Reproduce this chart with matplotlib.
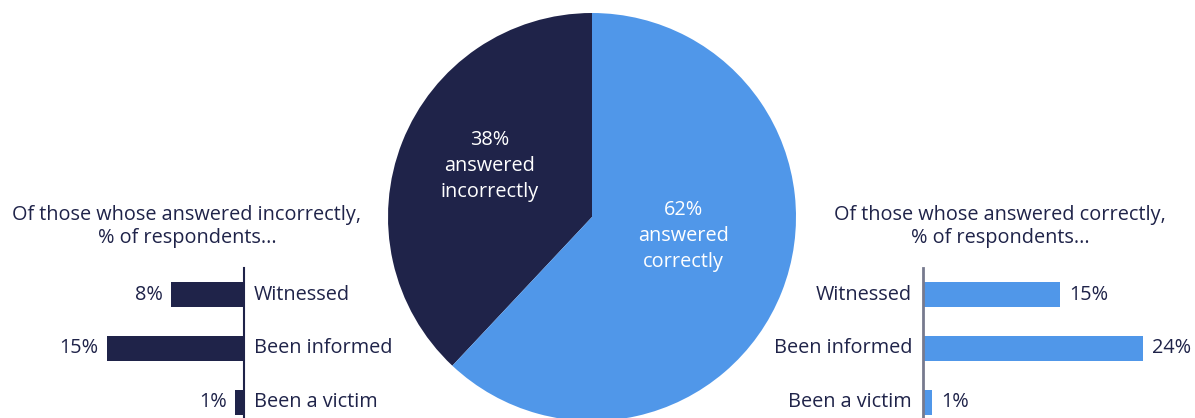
import matplotlib
matplotlib.use("Agg")
import matplotlib.pyplot as plt

plt.rcParams['font.family'] = ['Open Sans', 'DejaVu Sans']

NAVY = '#1f2349'
BLUE = '#5097e9'

pie_labels = ['38%\nanswered\nincorrectly', '62%\nanswered\ncorrectly']
pie_values = [38, 62]

categories = ['Witnessed', 'Been informed', 'Been a victim']
incorrect_values = [8, 15, 1]
correct_values = [15, 24, 1]

left_title = 'Of those whose answered incorrectly,\n% of respondents...'
right_title = 'Of those whose answered correctly,\n% of respondents...'

W, H = 1195, 418
FS = 14.3
fig = plt.figure(figsize=(W / 100, H / 100), dpi=100)

def fx(px):
    return px / W

def fy(py):
    return 1 - py / H

# Pie
cx, cy, r = 592, 217, 204
axp = fig.add_axes([fx(cx - r), fy(cy + r), 2 * r / W, 2 * r / H])
axp.pie(pie_values, colors=[NAVY, BLUE], startangle=90, counterclock=True,
        radius=1, wedgeprops=dict(linewidth=0))
axp.set_xlim(-1, 1)
axp.set_ylim(-1, 1)
axp.set_aspect('equal')
axp.axis('off')
axp.text(-0.5, 0.25, pie_labels[0], color='white', ha='center', va='center',
         fontsize=FS, linespacing=1.38)
axp.text(0.45, -0.093, pie_labels[1], color='white', ha='center', va='center',
         fontsize=FS, linespacing=1.38)

pxper = 9.15
y0, unit = 294.5, 53.75
top, bot = 268, 418
ylim = ((bot - y0) / unit, (top - y0) / unit)
ypos = list(range(len(categories)))
bh = 25 / unit

# Left bars
lx0, lx1 = 40, 244
axl = fig.add_axes([fx(lx0), fy(bot), (lx1 - lx0) / W, (bot - top) / H])
axl.barh(ypos, incorrect_values, height=bh, color=NAVY)
axl.set_xlim((lx1 - lx0) / pxper, 0)
axl.set_ylim(*ylim)
for s in ['top', 'right', 'bottom', 'left']:
    axl.spines[s].set_visible(False)
axl.axvline(0, color=NAVY, lw=1.5, clip_on=False)
axl.set_xticks([])
axl.set_yticks([])
for i, (c, v) in enumerate(zip(categories, incorrect_values)):
    axl.text(v + 0.9, i, f'{v}%', ha='right', va='center', color=NAVY, fontsize=FS)
    axl.text(-1.1, i, c, ha='left', va='center', color=NAVY, fontsize=FS)

# Right bars
rx0, rx1 = 923, 1195
axr = fig.add_axes([fx(rx0), fy(bot), (rx1 - rx0) / W, (bot - top) / H])
axr.barh(ypos, correct_values, height=bh, color=BLUE)
axr.set_xlim(0, (rx1 - rx0) / pxper)
axr.set_ylim(*ylim)
for s in ['top', 'right', 'bottom', 'left']:
    axr.spines[s].set_visible(False)
axr.axvline(0, color='#777a8e', lw=2, clip_on=False)
axr.set_xticks([])
axr.set_yticks([])
for i, (c, v) in enumerate(zip(categories, correct_values)):
    axr.text(v + 1.0, i, f'{v}%', ha='left', va='center', color=NAVY, fontsize=FS)
    axr.text(-1.2, i, c, ha='right', va='center', color=NAVY, fontsize=FS)

fig.text(fx(187), fy(226), left_title, ha='center', va='center', color=NAVY,
         fontsize=FS, linespacing=1.2)
fig.text(fx(1000), fy(226), right_title, ha='center', va='center', color=NAVY,
         fontsize=FS, linespacing=1.2)

fig.savefig('out.png', dpi=100, facecolor='white')
